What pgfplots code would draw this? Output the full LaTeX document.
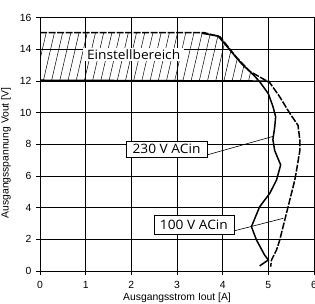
\documentclass[border=0pt]{standalone}
\usepackage{fontspec}
\setmainfont{Liberation Sans}
\newfontfamily\labfont[FakeStretch=1.06]{Open Sans}
\usepackage{pgfplots}
\pgfplotsset{compat=1.18}
\usetikzlibrary{patterns.meta}
\begin{document}
\begin{tikzpicture}
\begin{axis}[name=ax,
  width=274bp, height=253.3bp, scale only axis,
  xmin=0, xmax=6, ymin=0, ymax=16,
  xtick={0,1,...,6}, ytick={0,2,...,16},
  grid=major, grid style={black, line width=0.6bp},
  axis line style={black, line width=0.9bp},
  tick pos=left, tick align=outside, major tick length=4bp,
  tick style={black, line width=0.6bp},
  /pgf/number format/assume math mode=true,
  ticklabel style={font=\fontsize{10.4}{11}\selectfont},
  xticklabel style={yshift=-3bp},
  yticklabel style={xshift=-1bp},
  xlabel={Ausgangsstrom Iout [A]},
  ylabel={Ausgangsspannung Vout [V]},
  label style={font=\fontsize{10.4}{11}\selectfont},
  xlabel style={at={(axis description cs:0.5,0)}, anchor=north, inner sep=0pt, yshift=-21.5bp},
  ylabel style={at={(axis description cs:0,0.466)}, anchor=center, inner sep=0pt, yshift=34bp},
]
% hatched adjustment range
\addplot[draw=none, pattern={Lines[angle=77, distance=8bp, line width=0.5bp]}]
  coordinates {(0,12.05) (4.81,12.0) (4.67,12.4) (4.41,13.1) (4.16,13.96) (3.9,14.84) (3.54,15.02) (0,15.02)} -- cycle;
\node[fill=white, inner xsep=4bp, inner ysep=1.5bp, font=\labfont\fontsize{13}{14}\selectfont] at (axis cs:2.05,13.65) {Einstellbereich};
% 230 V ACin (solid)
\addplot[black, line width=1.5bp] coordinates {
 (3.54,15.02) (3.9,14.84) (4.16,13.96) (4.41,13.1) (4.67,12.4) (4.81,11.96)
 (5.0,11.2) (5.1,10.4) (5.16,9.75) (5.14,9.1) (5.1,8.3) (5.14,7.6) (5.27,6.7)
 (5.18,5.75) (5.03,4.9) (4.81,4.06) (4.63,2.8) (4.74,1.96) (4.92,1.0) (5.0,0.7) (4.81,0.32)};
\addplot[black, line width=1.5bp] coordinates {(0,12.05) (4.81,12.0)};
% 100 V ACin (dashed)
\addplot[black, line width=1.5bp, dash pattern=on 7bp off 1.5bp] coordinates {
 (0,15.05) (3.6,15.05) (3.94,14.8) (4.3,13.5) (4.6,12.6) (5.03,11.9)
 (5.25,11.0) (5.47,9.96) (5.65,9.2) (5.69,8.27) (5.69,7.6) (5.62,6.4)
 (5.58,5.75) (5.47,4.49) (5.36,3.22) (5.25,1.96) (5.18,1.33) (5.07,0.7) (5.05,0.27)};
\addplot[black, line width=1.5bp] coordinates {(4.81,12.0) (5.03,11.98)};
% pointers
\addplot[black, line width=0.6bp] coordinates {(3.68,7.35) (5.1,8.5)};
\addplot[black, line width=0.6bp] coordinates {(4.23,2.52) (5.33,3.33)};
\node[draw=black, line width=0.7bp, fill=white, minimum width=81bp, minimum height=15.5bp, inner sep=1bp, font=\labfont\fontsize{13}{14}\selectfont] at (axis cs:2.77,7.69) {230 V ACin};
\node[draw=black, line width=0.7bp, fill=white, minimum width=80bp, minimum height=19.5bp, inner sep=1bp, font=\labfont\fontsize{13}{14}\selectfont] at (axis cs:3.37,2.93) {100 V ACin};
\end{axis}
\pgfresetboundingbox
\path ([shift={(-40bp,-33bp)}]ax.south west) rectangle ([shift={(1bp,17.7bp)}]ax.north east);
\end{tikzpicture}
\end{document}
